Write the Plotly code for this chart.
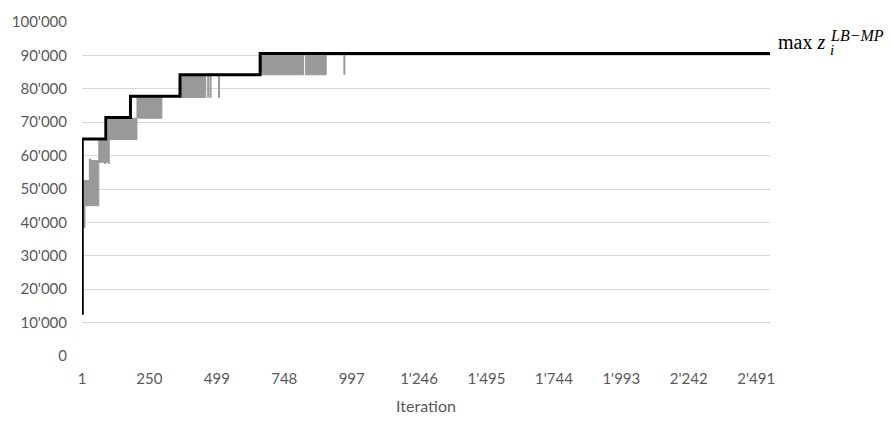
import plotly.graph_objects as go

# ---- data ----
# best objective (max z_i^{LB-MP}) step line: iteration where the value starts
best_iter = [1, 2, 89, 180, 363, 659, 2542]
best_val = [12800, 65000, 71400, 77800, 84200, 90600, 90600]

# dense oscillation of the current solution value, summarised as bands
band_start = [4, 12, 28, 34, 63, 97, 204, 369, 664, 826]
band_end = [12, 28, 33, 63, 95, 204, 296, 458, 819, 903]
band_low = [38500, 45000, 45000, 45000, 58000, 64800, 71200, 77400, 84200, 84200]
band_high = [52500, 52500, 59000, 58500, 64800, 71200, 77600, 84000, 90400, 90400]

# isolated dips of the current solution value
spike_iter = [86, 100, 467, 476, 507, 970]
spike_low = [57500, 57500, 77300, 77300, 77300, 84200]
spike_high = [64800, 65000, 84200, 84200, 84200, 90600]

x_tickvals = [1, 250, 499, 748, 997, 1246, 1495, 1744, 1993, 2242, 2491]
x_ticktext = ["1", "250", "499", "748", "997", "1'246", "1'495", "1'744", "1'993", "2'242", "2'491"]
y_tickvals = [0, 10000, 20000, 30000, 40000, 50000, 60000, 70000, 80000, 90000, 100000]
y_ticktext = ["0", "10'000", "20'000", "30'000", "40'000", "50'000", "60'000",
              "70'000", "80'000", "90'000", "100'000"]

GRAY = "#999999"
TXT = "#595959"
FONT = "Lato"

# ---- build traces ----
bx, by = [], []
for s, e, lo, hi in zip(band_start, band_end, band_low, band_high):
    bx += [s, e, e, s, s, None]
    by += [lo, lo, hi, hi, lo, None]

sx, sy = [], []
for i, lo, hi in zip(spike_iter, spike_low, spike_high):
    sx += [i, i, None]
    sy += [lo, hi, None]

fig = go.Figure()
fig.add_trace(go.Scatter(x=bx, y=by, mode="lines", fill="toself",
                         fillcolor=GRAY, line=dict(color=GRAY, width=1),
                         hoverinfo="skip", showlegend=False))
fig.add_trace(go.Scatter(x=sx, y=sy, mode="lines",
                         line=dict(color=GRAY, width=2),
                         hoverinfo="skip", showlegend=False))
fig.add_trace(go.Scatter(x=best_iter, y=best_val, mode="lines",
                         line=dict(color="black", width=3, shape="hv"),
                         showlegend=False))

fig.update_layout(
    width=892, height=424,
    margin=dict(l=80, r=122, t=14, b=67),
    paper_bgcolor="white", plot_bgcolor="white",
    font=dict(family=FONT, size=15, color=TXT),
    xaxis=dict(range=[1, 2542], tickvals=x_tickvals, ticktext=x_ticktext,
               showgrid=False, zeroline=False, showline=False, ticks="",
               ticklabelstandoff=12,
               title=dict(text="Iteration", font=dict(family=FONT, size=16, color=TXT),
                          standoff=14)),
    yaxis=dict(range=[0, 100000], tickvals=y_tickvals, ticktext=y_ticktext,
               showgrid=True, gridcolor="#d9d9d9", gridwidth=1,
               zeroline=False, showline=False, ticks="", ticklabelstandoff=14),
    annotations=[
        dict(xref="paper", x=1, yref="y", y=90600, xanchor="left", yanchor="middle",
             xshift=6, yshift=11, showarrow=False,
             text="max&nbsp;<i>z</i>", font=dict(family="Liberation Serif", size=20, color="black")),
        dict(xref="paper", x=1, yref="y", y=90600, xanchor="left", yanchor="middle",
             xshift=58, yshift=18, showarrow=False,
             text="<i>LB\u2212MP</i>", font=dict(family="Liberation Serif", size=16, color="black")),
        dict(xref="paper", x=1, yref="y", y=90600, xanchor="left", yanchor="middle",
             xshift=58, yshift=3, showarrow=False,
             text="<i>i</i>", font=dict(family="Liberation Serif", size=15, color="black")),
    ],
)

fig.write_html("out.html")
